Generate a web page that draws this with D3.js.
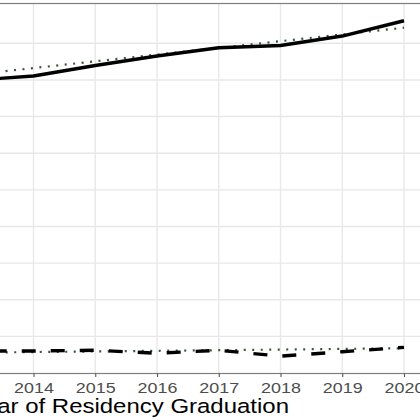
<!DOCTYPE html>
<html>
<head>
<meta charset="utf-8">
<script src="https://cdn.jsdelivr.net/npm/d3@7/dist/d3.min.js"></script>
<style>
  html, body { margin: 0; padding: 0; background: #fff; }
  svg { display: block; }
</style>
</head>
<body>
<svg id="chart" width="420" height="420"></svg>
<script>
// ---- data ----
const years = [2013, 2014, 2015, 2016, 2017, 2018, 2019, 2020];
const upperValues = [39.95, 40.53, 41.97, 43.27, 44.40, 44.70, 45.99, 48.08];
const upperTrend  = [40.70, 41.62, 42.54, 43.46, 44.37, 45.29, 46.21, 47.13];
const lowerValues = [3.0, 3.0, 3.1, 2.7, 3.1, 2.3, 2.9, 3.5];
const lowerTrend  = [2.77, 2.86, 2.94, 3.03, 3.11, 3.20, 3.29, 3.37];
const yGridValues = [5, 10, 15, 20, 25, 30, 35, 40, 45];
const tickYears   = [2014, 2015, 2016, 2017, 2018, 2019, 2020];
const xTickLabels = ["2014", "2015", "2016", "2017", "2018", "2019", "2020"];
const xTitle = "Year of Residency Graduation";

// ---- layout ----
const svg = d3.select("#chart");
const panel = { left: -160, right: 440, top: 3.5, bottom: 373.5 };

const x = d3.scaleLinear().domain([2013, 2020]).range([-28.25, 404]);
const y = d3.scaleLinear().domain([0, 50.5]).range([373, 3]);

// gridlines
const g = svg.append("g");
g.selectAll("line.hgrid").data(yGridValues).enter().append("line")
  .attr("x1", panel.left).attr("x2", panel.right)
  .attr("y1", d => y(d)).attr("y2", d => y(d))
  .attr("stroke", "#E8E8E8").attr("stroke-width", 1.4);
g.selectAll("line.vgrid").data(years).enter().append("line")
  .attr("y1", panel.top).attr("y2", panel.bottom)
  .attr("x1", d => x(d)).attr("x2", d => x(d))
  .attr("stroke", "#E8E8E8").attr("stroke-width", 1.4);

// panel border
svg.append("rect")
  .attr("x", panel.left).attr("y", panel.top)
  .attr("width", panel.right - panel.left).attr("height", panel.bottom - panel.top)
  .attr("fill", "none").attr("stroke", "#7f7f7f").attr("stroke-width", 1.2);

// x axis (ticks + labels) via d3 axis
const axis = d3.axisBottom(x)
  .tickValues(tickYears)
  .tickFormat((d, i) => xTickLabels[i])
  .tickSize(3.5).tickSizeOuter(0);
const ax = svg.append("g").attr("transform", `translate(0,${panel.bottom})`).call(axis);
ax.select(".domain").remove();
ax.selectAll(".tick line").attr("stroke", "#555").attr("stroke-width", 1.1);
ax.selectAll(".tick text")
  .attr("y", 0).attr("dy", 0)
  .attr("transform", "translate(0,19.5) scale(1.28,1)")
  .attr("fill", "#4D4D4D")
  .style("font-family", "'Liberation Sans', Arial, sans-serif")
  .style("font-size", "14px");

// axis title
svg.append("text")
  .attr("transform", "translate(289,413) scale(1.17,1)")
  .attr("text-anchor", "end")
  .style("font-family", "'Liberation Sans', Arial, sans-serif")
  .style("font-size", "20.5px")
  .attr("fill", "#000")
  .text(xTitle);

// lines
const line = d3.line().x((d, i) => x(years[i])).y(d => y(d));

svg.append("path").datum(upperTrend)
  .attr("d", line).attr("fill", "none")
  .attr("stroke", "#3b553b").attr("stroke-width", 2.2)
  .attr("stroke-dasharray", "2,6.5");

svg.append("path").datum(upperValues)
  .attr("d", line).attr("fill", "none")
  .attr("stroke", "#000").attr("stroke-width", 3.4)
  .attr("stroke-linejoin", "round");

svg.append("path").datum(lowerTrend)
  .attr("d", line).attr("fill", "none")
  .attr("stroke", "#3b553b").attr("stroke-width", 2.2)
  .attr("stroke-dasharray", "2,6.5");

svg.append("path").datum(lowerValues)
  .attr("d", line).attr("fill", "none")
  .attr("stroke", "#000").attr("stroke-width", 3.4)
  .attr("stroke-dasharray", "14,15")
  .attr("stroke-dashoffset", 8);
</script>
</body>
</html>
